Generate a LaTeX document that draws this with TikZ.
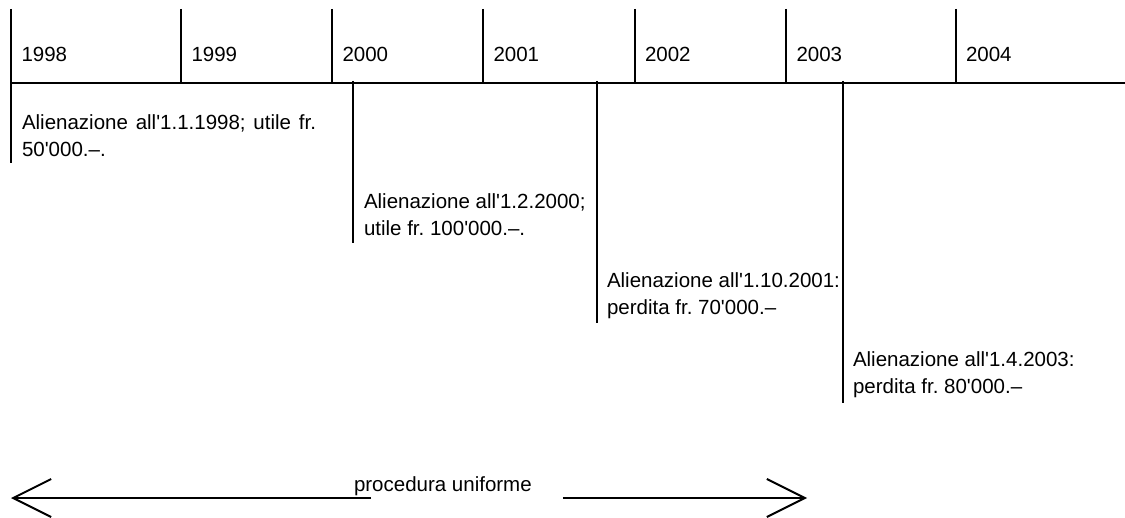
\documentclass[tikz,border=0pt]{standalone}
\usepackage{fontspec}
\newfontfamily\arialfont{Liberation Sans}
\usepackage{tikz}
\usetikzlibrary{arrows.meta, positioning, calc}
\frenchspacing

\begin{document}
\begin{tikzpicture}[x=1pt, y=-1pt, line width=2pt,
    every node/.style={font=\arialfont\fontsize{20.5}{27}\selectfont, inner sep=0pt},
    anno/.style={anchor=base west},
    evt/.style={align=left, anchor=base west},
    barb/.style={-{Straight Barb[length=38pt, width=38pt]}}]
        \useasboundingbox (0,0) rectangle (1125,518);

        % Colonne degli anni
        \foreach \x/\yr in {11/1998, 181/1999, 332/2000, 483/2001, 634.5/2002, 786/2003, 955.5/2004} {
            \draw (\x,9) -- (\x,83);
            \node[anno] (y\yr) at (\x+9.5,62) {\yr};
        }
        % Asse del tempo
        \draw (11,83) -- (1125,83);

        % Alienazioni (linee verticali)
        \foreach \x/\yend in {11/163, 353/243, 597/323, 843/403} {
            \draw (\x,81) -- (\x,\yend);
        }
        % (base = riga inferiore del testo)
        \node[evt] (alien1) at (21,157) {\makebox[294pt][s]{Alienazione all'1.1.1998; utile fr.}\\50'000.–.};
        \node[evt] (alien2) at (363,236) {Alienazione all'1.2.2000;\\utile fr. 100'000.–.};
        \node[evt] (alien3) at (606,315) {Alienazione all'1.10.2001:\\perdita fr. 70'000.–};
        \node[evt] (alien4) at (852,394) {Alienazione all'1.4.2003:\\perdita fr. 80'000.–};

        % Procedura uniforme
        \node[anchor=base west] (proc) at (353,492) {procedura uniforme};
        \coordinate (ltip) at (11,498);
        \coordinate (rtip) at (807,498);
        \draw[barb] ([xshift=18pt]proc.west |- ltip) -- (ltip);
        \draw[barb] ([xshift=30pt]proc.east |- rtip) -- (rtip);

    \end{tikzpicture}
\end{document}
